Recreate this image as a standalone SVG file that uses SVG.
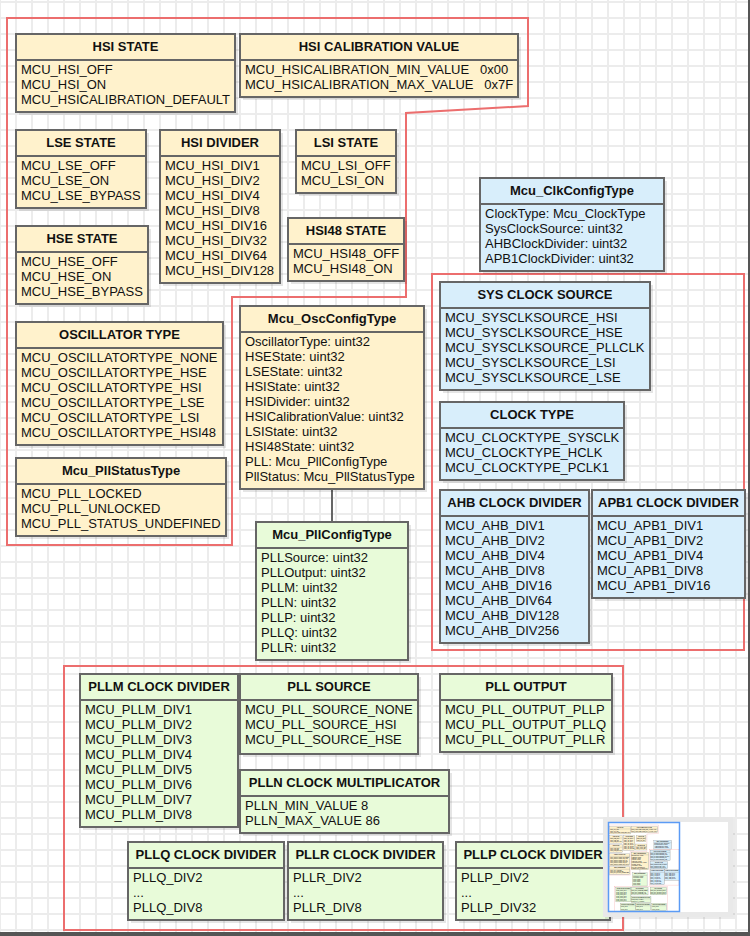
<svg xmlns="http://www.w3.org/2000/svg" xmlns:xlink="http://www.w3.org/1999/xlink" width="750" height="936" viewBox="0 0 750 936">
<style>
.sh{fill:#000;fill-opacity:.1}
.bx{stroke:#666;stroke-width:2}
.y{fill:#fff2cc}
.b{fill:#d8eefb}
.g{fill:#e8fbd9}
.sep{stroke:#666;stroke-width:2}
.t{font-family:"Liberation Sans",Arial,sans-serif;font-size:13px;font-weight:bold;fill:#111;text-anchor:middle}
.l{font-family:"Liberation Sans",Arial,sans-serif;font-size:13px;fill:#111}
.grp{fill:none;stroke:#ec6e6e;stroke-width:2}
.con{stroke:#666;stroke-width:2;fill:none}
</style>
<defs>
<pattern id="grid" x="-1" y="1" width="16" height="16" patternUnits="userSpaceOnUse">
<rect x="0" y="0" width="2" height="16" fill="#ececec"/>
<rect x="0" y="0" width="16" height="2" fill="#ececec"/>
</pattern>
</defs>
<rect x="0" y="0" width="750" height="936" fill="#ffffff"/>
<rect x="0" y="0" width="748" height="932" fill="url(#grid)"/>
<g id="diagram">
<g id="groups">
<polygon class="grp" points="7,18 528,18 528,106 406,113 406,297 232,297 232,545 7,545"/>
<rect class="grp" x="432" y="274" width="312" height="376"/>
<rect class="grp" x="64" y="666" width="559" height="264"/>
</g>
<g id="connectors">
<line class="con" x1="332" y1="489" x2="332" y2="522"/>
</g>
<g id="n_hsi_state" transform="translate(16,34)">
<rect class="sh" x="3" y="3" width="219" height="78"/><rect class="bx y" width="219" height="78"/><line class="sep" x1="0" y1="26" x2="219" y2="26"/>
<text class="t" x="109.5" y="16.8">HSI STATE</text>
<text class="l" x="5" y="39.8">MCU_HSI_OFF</text><text class="l" x="5" y="54.8">MCU_HSI_ON</text><text class="l" x="5" y="69.8">MCU_HSICALIBRATION_DEFAULT</text>
</g>
<g id="n_hsi_calibration" transform="translate(240,34)">
<rect class="sh" x="3" y="3" width="278" height="63"/><rect class="bx y" width="278" height="63"/><line class="sep" x1="0" y1="26" x2="278" y2="26"/>
<text class="t" x="139" y="16.8">HSI CALIBRATION VALUE</text>
<text class="l" x="5" y="39.8" xml:space="preserve">MCU_HSICALIBRATION_MIN_VALUE   0x00</text><text class="l" x="5" y="54.8" xml:space="preserve">MCU_HSICALIBRATION_MAX_VALUE   0x7F</text>
</g>
<g id="n_lse_state" transform="translate(16,130)">
<rect class="sh" x="3" y="3" width="130" height="78"/><rect class="bx y" width="130" height="78"/><line class="sep" x1="0" y1="26" x2="130" y2="26"/>
<text class="t" x="65" y="16.8">LSE STATE</text>
<text class="l" x="5" y="39.8">MCU_LSE_OFF</text><text class="l" x="5" y="54.8">MCU_LSE_ON</text><text class="l" x="5" y="69.8">MCU_LSE_BYPASS</text>
</g>
<g id="n_hsi_divider" transform="translate(160,130)">
<rect class="sh" x="3" y="3" width="120" height="153"/><rect class="bx y" width="120" height="153"/><line class="sep" x1="0" y1="26" x2="120" y2="26"/>
<text class="t" x="60" y="16.8">HSI DIVIDER</text>
<text class="l" x="5" y="39.8">MCU_HSI_DIV1</text><text class="l" x="5" y="54.8">MCU_HSI_DIV2</text><text class="l" x="5" y="69.8">MCU_HSI_DIV4</text><text class="l" x="5" y="84.8">MCU_HSI_DIV8</text><text class="l" x="5" y="99.8">MCU_HSI_DIV16</text><text class="l" x="5" y="114.8">MCU_HSI_DIV32</text><text class="l" x="5" y="129.8">MCU_HSI_DIV64</text><text class="l" x="5" y="144.8">MCU_HSI_DIV128</text>
</g>
<g id="n_lsi_state" transform="translate(296,130)">
<rect class="sh" x="3" y="3" width="100" height="63"/><rect class="bx y" width="100" height="63"/><line class="sep" x1="0" y1="26" x2="100" y2="26"/>
<text class="t" x="50" y="16.8">LSI STATE</text>
<text class="l" x="5" y="39.8">MCU_LSI_OFF</text><text class="l" x="5" y="54.8">MCU_LSI_ON</text>
</g>
<g id="n_hsi48_state" transform="translate(288,218)">
<rect class="sh" x="3" y="3" width="116" height="63"/><rect class="bx y" width="116" height="63"/><line class="sep" x1="0" y1="26" x2="116" y2="26"/>
<text class="t" x="58" y="16.8">HSI48 STATE</text>
<text class="l" x="5" y="39.8">MCU_HSI48_OFF</text><text class="l" x="5" y="54.8">MCU_HSI48_ON</text>
</g>
<g id="n_hse_state" transform="translate(16,226)">
<rect class="sh" x="3" y="3" width="132" height="78"/><rect class="bx y" width="132" height="78"/><line class="sep" x1="0" y1="26" x2="132" y2="26"/>
<text class="t" x="66" y="16.8">HSE STATE</text>
<text class="l" x="5" y="39.8">MCU_HSE_OFF</text><text class="l" x="5" y="54.8">MCU_HSE_ON</text><text class="l" x="5" y="69.8">MCU_HSE_BYPASS</text>
</g>
<g id="n_oscillator_type" transform="translate(16,322)">
<rect class="sh" x="3" y="3" width="207" height="123"/><rect class="bx y" width="207" height="123"/><line class="sep" x1="0" y1="26" x2="207" y2="26"/>
<text class="t" x="103.5" y="16.8">OSCILLATOR TYPE</text>
<text class="l" x="5" y="39.8">MCU_OSCILLATORTYPE_NONE</text><text class="l" x="5" y="54.8">MCU_OSCILLATORTYPE_HSE</text><text class="l" x="5" y="69.8">MCU_OSCILLATORTYPE_HSI</text><text class="l" x="5" y="84.8">MCU_OSCILLATORTYPE_LSE</text><text class="l" x="5" y="99.8">MCU_OSCILLATORTYPE_LSI</text><text class="l" x="5" y="114.8">MCU_OSCILLATORTYPE_HSI48</text>
</g>
<g id="n_pll_status" transform="translate(16,458)">
<rect class="sh" x="3" y="3" width="210" height="78"/><rect class="bx y" width="210" height="78"/><line class="sep" x1="0" y1="26" x2="210" y2="26"/>
<text class="t" x="105" y="16.8">Mcu_PllStatusType</text>
<text class="l" x="5" y="39.8">MCU_PLL_LOCKED</text><text class="l" x="5" y="54.8">MCU_PLL_UNLOCKED</text><text class="l" x="5" y="69.8">MCU_PLL_STATUS_UNDEFINED</text>
</g>
<g id="n_osc_config" transform="translate(240,306)">
<rect class="sh" x="3" y="3" width="184" height="183"/><rect class="bx y" width="184" height="183"/><line class="sep" x1="0" y1="26" x2="184" y2="26"/>
<text class="t" x="92" y="16.8">Mcu_OscConfigType</text>
<text class="l" x="5" y="39.8">OscillatorType: uint32</text><text class="l" x="5" y="54.8">HSEState: uint32</text><text class="l" x="5" y="69.8">LSEState: uint32</text><text class="l" x="5" y="84.8">HSIState: uint32</text><text class="l" x="5" y="99.8">HSIDivider: uint32</text><text class="l" x="5" y="114.8">HSICalibrationValue: uint32</text><text class="l" x="5" y="129.8">LSIState: uint32</text><text class="l" x="5" y="144.8">HSI48State: uint32</text><text class="l" x="5" y="159.8">PLL: Mcu_PllConfigType</text><text class="l" x="5" y="174.8">PllStatus: Mcu_PllStatusType</text>
</g>
<g id="n_pll_config" transform="translate(256,522)">
<rect class="sh" x="3" y="3" width="152" height="138"/><rect class="bx g" width="152" height="138"/><line class="sep" x1="0" y1="26" x2="152" y2="26"/>
<text class="t" x="76" y="16.8">Mcu_PllConfigType</text>
<text class="l" x="5" y="39.8">PLLSource: uint32</text><text class="l" x="5" y="54.8">PLLOutput: uint32</text><text class="l" x="5" y="69.8">PLLM: uint32</text><text class="l" x="5" y="84.8">PLLN: uint32</text><text class="l" x="5" y="99.8">PLLP: uint32</text><text class="l" x="5" y="114.8">PLLQ: uint32</text><text class="l" x="5" y="129.8">PLLR: uint32</text>
</g>
<g id="n_clk_config" transform="translate(480,178)">
<rect class="sh" x="3" y="3" width="184" height="93"/><rect class="bx b" width="184" height="93"/><line class="sep" x1="0" y1="26" x2="184" y2="26"/>
<text class="t" x="92" y="16.8">Mcu_ClkConfigType</text>
<text class="l" x="5" y="39.8">ClockType: Mcu_ClockType</text><text class="l" x="5" y="54.8">SysClockSource: uint32</text><text class="l" x="5" y="69.8">AHBClockDivider: uint32</text><text class="l" x="5" y="84.8">APB1ClockDivider: uint32</text>
</g>
<g id="n_sysclk_source" transform="translate(440,282)">
<rect class="sh" x="3" y="3" width="210" height="108"/><rect class="bx b" width="210" height="108"/><line class="sep" x1="0" y1="26" x2="210" y2="26"/>
<text class="t" x="105" y="16.8">SYS CLOCK SOURCE</text>
<text class="l" x="5" y="39.8">MCU_SYSCLKSOURCE_HSI</text><text class="l" x="5" y="54.8">MCU_SYSCLKSOURCE_HSE</text><text class="l" x="5" y="69.8">MCU_SYSCLKSOURCE_PLLCLK</text><text class="l" x="5" y="84.8">MCU_SYSCLKSOURCE_LSI</text><text class="l" x="5" y="99.8">MCU_SYSCLKSOURCE_LSE</text>
</g>
<g id="n_clock_type" transform="translate(440,402)">
<rect class="sh" x="3" y="3" width="184" height="78"/><rect class="bx b" width="184" height="78"/><line class="sep" x1="0" y1="26" x2="184" y2="26"/>
<text class="t" x="92" y="16.8">CLOCK TYPE</text>
<text class="l" x="5" y="39.8">MCU_CLOCKTYPE_SYSCLK</text><text class="l" x="5" y="54.8">MCU_CLOCKTYPE_HCLK</text><text class="l" x="5" y="69.8">MCU_CLOCKTYPE_PCLK1</text>
</g>
<g id="n_ahb_divider" transform="translate(440,490)">
<rect class="sh" x="3" y="3" width="149" height="153"/><rect class="bx b" width="149" height="153"/><line class="sep" x1="0" y1="26" x2="149" y2="26"/>
<text class="t" x="74.5" y="16.8">AHB CLOCK DIVIDER</text>
<text class="l" x="5" y="39.8">MCU_AHB_DIV1</text><text class="l" x="5" y="54.8">MCU_AHB_DIV2</text><text class="l" x="5" y="69.8">MCU_AHB_DIV4</text><text class="l" x="5" y="84.8">MCU_AHB_DIV8</text><text class="l" x="5" y="99.8">MCU_AHB_DIV16</text><text class="l" x="5" y="114.8">MCU_AHB_DIV64</text><text class="l" x="5" y="129.8">MCU_AHB_DIV128</text><text class="l" x="5" y="144.8">MCU_AHB_DIV256</text>
</g>
<g id="n_apb1_divider" transform="translate(592,490)">
<rect class="sh" x="3" y="3" width="153" height="108"/><rect class="bx b" width="153" height="108"/><line class="sep" x1="0" y1="26" x2="153" y2="26"/>
<text class="t" x="76.5" y="16.8">APB1 CLOCK DIVIDER</text>
<text class="l" x="5" y="39.8">MCU_APB1_DIV1</text><text class="l" x="5" y="54.8">MCU_APB1_DIV2</text><text class="l" x="5" y="69.8">MCU_APB1_DIV4</text><text class="l" x="5" y="84.8">MCU_APB1_DIV8</text><text class="l" x="5" y="99.8">MCU_APB1_DIV16</text>
</g>
<g id="n_pllm_divider" transform="translate(80,674)">
<rect class="sh" x="3" y="3" width="158" height="153"/><rect class="bx g" width="158" height="153"/><line class="sep" x1="0" y1="26" x2="158" y2="26"/>
<text class="t" x="79" y="16.8">PLLM CLOCK DIVIDER</text>
<text class="l" x="5" y="39.8">MCU_PLLM_DIV1</text><text class="l" x="5" y="54.8">MCU_PLLM_DIV2</text><text class="l" x="5" y="69.8">MCU_PLLM_DIV3</text><text class="l" x="5" y="84.8">MCU_PLLM_DIV4</text><text class="l" x="5" y="99.8">MCU_PLLM_DIV5</text><text class="l" x="5" y="114.8">MCU_PLLM_DIV6</text><text class="l" x="5" y="129.8">MCU_PLLM_DIV7</text><text class="l" x="5" y="144.8">MCU_PLLM_DIV8</text>
</g>
<g id="n_pll_source" transform="translate(240,674)">
<rect class="sh" x="3" y="3" width="178" height="80"/><rect class="bx g" width="178" height="80"/><line class="sep" x1="0" y1="26" x2="178" y2="26"/>
<text class="t" x="89" y="16.8">PLL SOURCE</text>
<text class="l" x="5" y="39.8">MCU_PLL_SOURCE_NONE</text><text class="l" x="5" y="54.8">MCU_PLL_SOURCE_HSI</text><text class="l" x="5" y="69.8">MCU_PLL_SOURCE_HSE</text>
</g>
<g id="n_pll_output" transform="translate(440,674)">
<rect class="sh" x="3" y="3" width="172" height="78"/><rect class="bx g" width="172" height="78"/><line class="sep" x1="0" y1="26" x2="172" y2="26"/>
<text class="t" x="86" y="16.8">PLL OUTPUT</text>
<text class="l" x="5" y="39.8">MCU_PLL_OUTPUT_PLLP</text><text class="l" x="5" y="54.8">MCU_PLL_OUTPUT_PLLQ</text><text class="l" x="5" y="69.8">MCU_PLL_OUTPUT_PLLR</text>
</g>
<g id="n_plln_multiplicator" transform="translate(240,770)">
<rect class="sh" x="3" y="3" width="209" height="63"/><rect class="bx g" width="209" height="63"/><line class="sep" x1="0" y1="26" x2="209" y2="26"/>
<text class="t" x="104.5" y="16.8">PLLN CLOCK MULTIPLICATOR</text>
<text class="l" x="5" y="39.8">PLLN_MIN_VALUE 8</text><text class="l" x="5" y="54.8">PLLN_MAX_VALUE 86</text>
</g>
<g id="n_pllq_divider" transform="translate(128,842)">
<rect class="sh" x="3" y="3" width="156" height="78"/><rect class="bx g" width="156" height="78"/><line class="sep" x1="0" y1="26" x2="156" y2="26"/>
<text class="t" x="78" y="16.8">PLLQ CLOCK DIVIDER</text>
<text class="l" x="5" y="39.8">PLLQ_DIV2</text><text class="l" x="5" y="54.8">...</text><text class="l" x="5" y="69.8">PLLQ_DIV8</text>
</g>
<g id="n_pllr_divider" transform="translate(288,842)">
<rect class="sh" x="3" y="3" width="155" height="78"/><rect class="bx g" width="155" height="78"/><line class="sep" x1="0" y1="26" x2="155" y2="26"/>
<text class="t" x="77.5" y="16.8">PLLR CLOCK DIVIDER</text>
<text class="l" x="5" y="39.8">PLLR_DIV2</text><text class="l" x="5" y="54.8">...</text><text class="l" x="5" y="69.8">PLLR_DIV8</text>
</g>
<g id="n_pllp_divider" transform="translate(456,842)">
<rect class="sh" x="3" y="3" width="154" height="78"/><rect class="bx g" width="154" height="78"/><line class="sep" x1="0" y1="26" x2="154" y2="26"/>
<text class="t" x="77" y="16.8">PLLP CLOCK DIVIDER</text>
<text class="l" x="5" y="39.8">PLLP_DIV2</text><text class="l" x="5" y="54.8">...</text><text class="l" x="5" y="69.8">PLLP_DIV32</text>
</g>
</g>
<g id="minimap">
<rect x="605" y="819" width="130" height="100" fill="#000" fill-opacity=".08"/>
<rect x="603" y="817" width="130" height="100" fill="#e9e9e9"/>
<rect x="608" y="822" width="120" height="90" fill="#ffffff"/>
<use xlink:href="#diagram" href="#diagram" transform="translate(608.3,823.3) scale(0.095)"/>
<rect x="608.5" y="822.5" width="71" height="89" fill="none" stroke="#5b9bf5" stroke-width="1.5"/>
</g>
<rect x="748" y="0" width="2" height="936" fill="#555"/>
<rect x="0" y="932" width="750" height="4" fill="#555"/>
</svg>
